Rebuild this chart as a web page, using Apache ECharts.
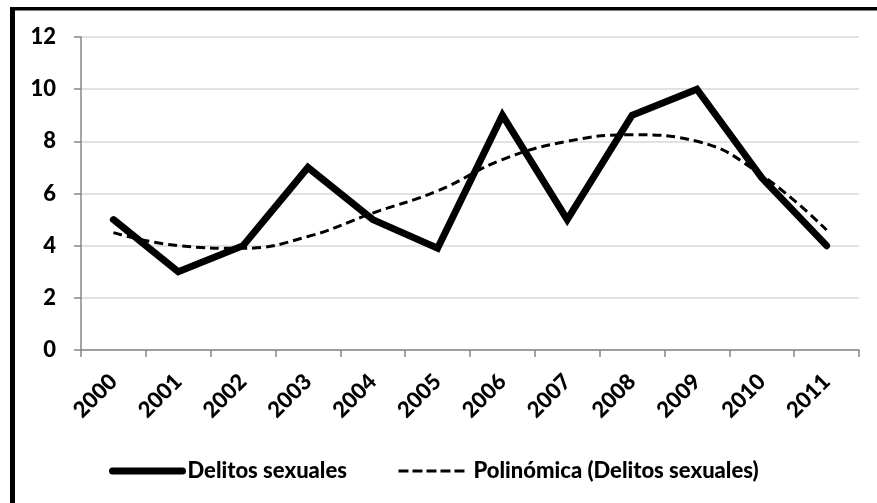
<!DOCTYPE html>
<html>
<head>
<meta charset="utf-8">
<script src="https://cdn.jsdelivr.net/npm/echarts@6/dist/echarts.min.js"></script>
<style>
html,body{margin:0;padding:0;background:#fff;}
#chart{width:877px;height:503px;}
</style>
</head>
<body>
<div id="chart"></div>
<script>
const years = ['2000','2001','2002','2003','2004','2005','2006','2007','2008','2009','2010','2011'];
const delitos = [5, 3, 4, 7, 5, 3.9, 9, 5, 9, 10, 6.6, 4];
const tendencia = [4.5, 4.0, 3.9, 4.35, 5.25, 6.1, 7.3, 8.0, 8.25, 8.0, 6.7, 4.6];
const yTicks = [0, 2, 4, 6, 8, 10, 12];
const serieNames = ['Delitos sexuales', 'Polinómica (Delitos sexuales)'];

const FONT = 'Lato, "Open Sans", sans-serif';
const chart = echarts.init(document.getElementById('chart'), null, {renderer: 'canvas'});
chart.setOption({
  animation: false,
  backgroundColor: '#fff',
  graphic: [
    {type: 'rect', shape: {x: 10, y: 7, width: 867, height: 3.5}, style: {fill: '#000'}},
    {type: 'rect', shape: {x: 10, y: 7, width: 5, height: 496}, style: {fill: '#000'}}
  ],
  grid: {left: 81, right: 18, top: 37, bottom: 153, containLabel: false},
  legend: {
    left: 104, top: 455,
    itemWidth: 70, itemHeight: 14, itemGap: 50,
    itemStyle: {opacity: 0},
    textStyle: {fontFamily: FONT, fontWeight: 900, fontSize: 22, color: '#000'},
    data: [
      {name: serieNames[0], lineStyle: {width: 7, cap: 'round', color: '#000'}},
      {name: serieNames[1], lineStyle: {width: 3, type: [10, 4], color: '#000'}}
    ]
  },
  xAxis: {
    type: 'category',
    data: years,
    boundaryGap: true,
    axisLine: {lineStyle: {color: '#868686', width: 1.5}},
    axisTick: {show: true, length: 7, inside: false, lineStyle: {color: '#868686', width: 1.5}},
    axisLabel: {rotate: 45, margin: 28, fontFamily: FONT, fontWeight: 900, fontSize: 22, color: '#000'},
    splitLine: {show: false}
  },
  yAxis: {
    type: 'value',
    min: yTicks[0], max: yTicks[yTicks.length - 1], interval: 2,
    axisLine: {show: true, lineStyle: {color: '#868686', width: 1.5}},
    axisTick: {show: true, length: 7, lineStyle: {color: '#868686', width: 1.5}},
    axisLabel: {margin: 25, fontFamily: FONT, fontWeight: 900, fontSize: 22, color: '#000'},
    splitLine: {show: true, lineStyle: {color: '#d9d9d9', width: 1.5}}
  },
  series: [
    {
      name: serieNames[0], type: 'line', data: delitos,
      symbol: 'none', smooth: false,
      lineStyle: {color: '#000', width: 7, cap: 'round', join: 'miter'},
      itemStyle: {color: '#000'}, z: 3
    },
    {
      name: serieNames[1], type: 'line', data: tendencia,
      symbol: 'none', smooth: 0.45,
      lineStyle: {color: '#000', width: 3, type: [9, 5]},
      itemStyle: {color: '#000'}, z: 4
    }
  ]
});
</script>
</body>
</html>
